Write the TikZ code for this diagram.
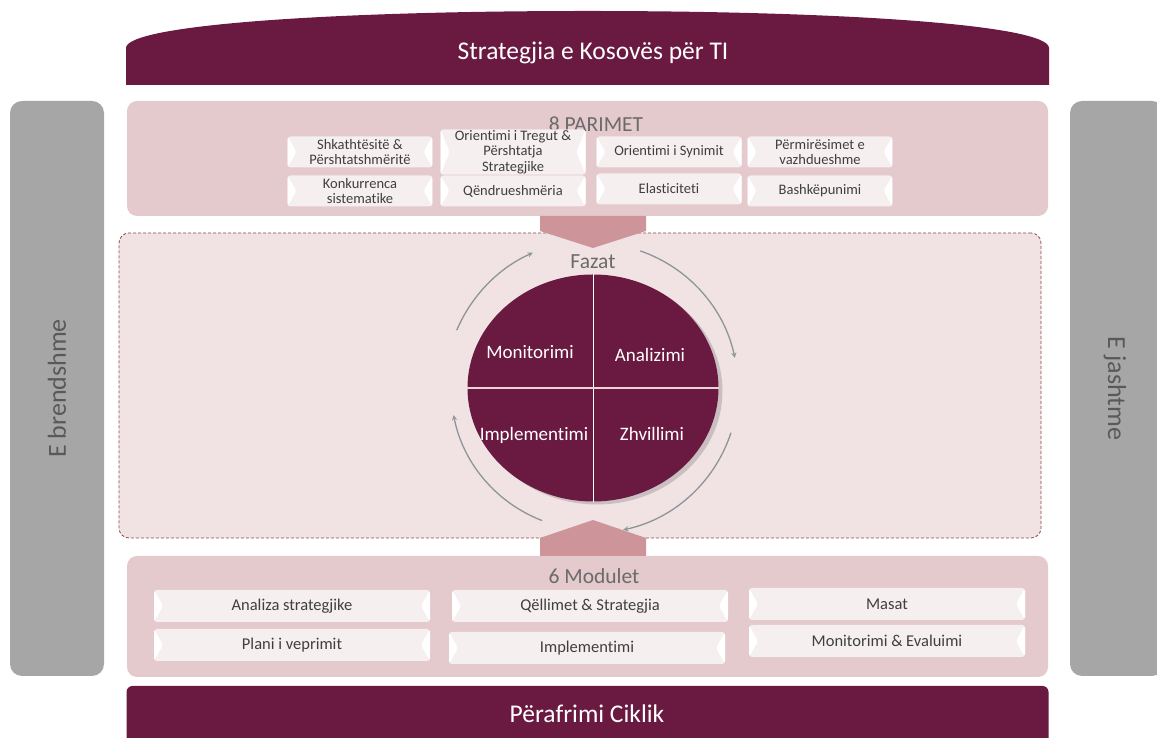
\documentclass[tikz,border=0pt]{standalone}
\usepackage{fontspec}
\setmainfont{Carlito}[Ligatures=NoCommon]
\usepackage{tikz}
\usetikzlibrary{shapes.geometric, arrows, shadows}
\definecolor{darkwine}{HTML}{6A1A41}
\definecolor{panelpink}{HTML}{E4C9CD}
\definecolor{midpink}{HTML}{F1E2E4}
\definecolor{chevpink}{HTML}{CD9599}
\definecolor{bargrey}{HTML}{A6A6A6}
\definecolor{bartext}{HTML}{595959}
\definecolor{titlegrey}{HTML}{6B6B6B}
\definecolor{boxfill}{HTML}{F6EFEF}
\definecolor{boxtext}{HTML}{3F3F3F}
\definecolor{arcgrey}{HTML}{8C9599}
\definecolor{dashred}{HTML}{8E4B4B}
\tikzstyle{bannertext} = [text=white, font=\fontsize{25.5}{30}\selectfont]
\tikzstyle{sidebar} = [rectangle, rounded corners=12pt, fill=bargrey, minimum width=94pt, minimum height=575pt, text=bartext, font=\fontsize{26}{30}\selectfont]
\tikzstyle{panel} = [rectangle, rounded corners=10pt, fill=panelpink, minimum width=921pt]
\tikzstyle{paneltitle} = [text=titlegrey, font=\fontsize{21.5}{25}\selectfont]
\tikzstyle{parim} = [rectangle, rounded corners=3pt, fill=boxfill, minimum width=145pt, minimum height=31pt, inner sep=1pt, align=center, text=boxtext, font=\fontsize{14.5}{15.5}\selectfont, path picture={
    \fill[white] (path picture bounding box.north west) -- ([xshift=9pt]path picture bounding box.west) -- (path picture bounding box.south west) -- cycle;
    \fill[white] (path picture bounding box.north east) -- ([xshift=-9pt]path picture bounding box.east) -- (path picture bounding box.south east) -- cycle;}]
\tikzstyle{modul} = [parim, minimum width=276pt, minimum height=32pt, font=\fontsize{16.5}{19}\selectfont]
\tikzstyle{fazetext} = [text=white, font=\fontsize{19}{22}\selectfont]
\tikzstyle{arrow} = [arcgrey, line width=1.3pt, ->, >=stealth]

\begin{document}
\begin{tikzpicture}[x=1pt, y=1pt, node distance=39pt]
		\useasboundingbox (0,0) rectangle (1157,738);
		
		% side bars
		\node (brendshme) [sidebar] at (57,349.5) {\rotatebox{90}{E brendshme}};
		\node (jashtme) [sidebar] at (1117,349.5) {};
		\node at (1115,349.5) [text=bartext, font=\fontsize{26}{30}\selectfont, rotate=-90] {E jashtme};
		
		% top banner
		\fill[darkwine] (126,653) -- (126,690) .. controls (126,713) and (330,727) .. (587.5,727) .. controls (845,727) and (1049,713) .. (1049,690) -- (1049,653) -- cycle;
		\node (strategjia) [bannertext] at (593,685) {Strategjia e Kosovës për TI};
		
		% bottom banner
		\node (ciklik) [rectangle, rounded corners=6pt, fill=darkwine, minimum width=922pt, minimum height=64pt] at (587.5,20) {};
		\node (ciklikteksti) [bannertext] at (587,24) {Përafrimi Ciklik};
		
		% panels
		\node (fazat) [rectangle, rounded corners=10pt, fill=midpink, draw=dashred, dash pattern=on 3pt off 2pt, line width=0.8pt, minimum width=922pt, minimum height=305pt] at (580,352.5) {};
		\node (parimet) [panel, minimum height=115pt] at (587.5,579.5) {};
		\node (modulet) [panel, minimum height=121pt] at (587.5,121.5) {};
		
		% chevrons
		\fill[chevpink] (540,522) -- (646,522) -- (646,507) -- (593,490) -- (540,507) -- cycle;
		\fill[chevpink] (540,182) -- (646,182) -- (646,200) -- (593,218) -- (540,200) -- cycle;
		
		\node (parimettitle) [paneltitle] at (596,614) {8 PARIMET};
		\node (moduletitle) [paneltitle] at (594,162) {6 Modulet};
		
		% 8 parimet
		\node (p1) [parim] at (360,586) {Shkathtësitë \&\\Përshtatshmëritë};
		\node (p2) [parim, right of=p1, xshift=114pt] {Orientimi i Tregut \&\\Përshtatja\\Strategjike};
		\node (p3) [parim, right of=p2, xshift=117pt] {Orientimi i Synimit};
		\node (p4) [parim, right of=p3, xshift=112pt] {Përmirësimet e\\vazhdueshme};
		\node (p5) [parim, below of=p1] {Konkurrenca\\sistematike};
		\node (p6) [parim, below of=p2] {Qëndrueshmëria};
		\node (p7) [parim, below of=p3, yshift=2pt] {Elasticiteti};
		\node (p8) [parim, below of=p4] {Bashkëpunimi};
		
		% 6 modulet
		\node (m1) [modul] at (292,132) {Analiza strategjike};
		\node (m2) [modul, right of=m1, xshift=259pt] {Qëllimet \& Strategjia};
		\node (m3) [modul, right of=m2, xshift=258pt, yshift=2pt] {Masat};
		\node (m4) [modul, below of=m1] {Plani i veprimit};
		\node (m5) [modul, below of=m2, xshift=-3pt, yshift=-3pt] {Implementimi};
		\node (m6) [modul, below of=m3, yshift=2pt] {Monitorimi \& Evaluimi};
		
		% fazat
		\node (faza) [ellipse, fill=darkwine, minimum width=251pt, minimum height=227pt, drop shadow={shadow xshift=4pt, shadow yshift=-3pt, opacity=0.35}] at (593,350) {};
		\draw [white, line width=1pt] (faza.north) -- (faza.south);
		\draw [panelpink!80!white, line width=1.3pt] (faza.west) -- (faza.east);
		\node (fazattitle) [paneltitle] at (593,476) {Fazat};
		\node (mon) [fazetext] at (530,386) {Monitorimi};
		\node (ana) [fazetext] at (650,383) {Analizimi};
		\node (imp) [fazetext] at (534,303) {Implementimi};
		\node (zhv) [fazetext] at (652,304) {Zhvillimi};
		
		\draw [arrow] (faza.center) ++(157:148pt) arc (157:114:148pt);
		\draw [arrow] (faza.center) ++(71:145pt) arc (71:12:145pt);
		\draw [arrow] (faza.center) ++(-18:145pt) arc (-18:-78:145pt);
		\draw [arrow] (faza.center) ++(249:142pt) arc (249:191:142pt);
		
		\end{tikzpicture}
\end{document}
